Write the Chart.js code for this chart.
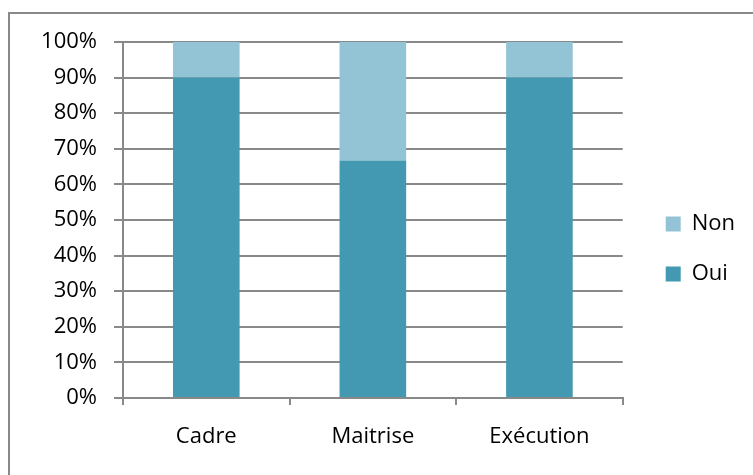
<!DOCTYPE html>
<html>
<head>
<meta charset="utf-8">
<script src="https://cdn.jsdelivr.net/npm/chart.js@4"></script>
<style>
  body { margin: 0; background: #fff; }
  #wrap { width: 753px; height: 475px; }
</style>
</head>
<body>
<div id="wrap"><canvas id="myChart"></canvas></div>
<script>
const categories = ['Cadre', 'Maitrise', 'Exécution'];
const ouiValues = [90, 66.7, 90];
const nonValues = [10, 33.3, 10];
const yTicks = [0, 10, 20, 30, 40, 50, 60, 70, 80, 90, 100];

const gridGrey = '#898989';

// grey frame around the whole chart
const frame = {
    id: 'frame',
    beforeDraw(chart) {
        const c = chart.ctx;
        c.save();
        c.strokeStyle = gridGrey;
        c.lineWidth = 2;
        c.strokeRect(9, 13, 800, 520);
        c.restore();
    }
};

Chart.defaults.font.family = 'Open Sans';
Chart.defaults.font.size = 22;
Chart.defaults.color = '#000';

const ctx = document.getElementById('myChart');

new Chart(ctx, {
    type: 'bar',
    data: {
        labels: categories,
        datasets: [{
            label: 'Oui',
            data: ouiValues,
            backgroundColor: '#4399b1',
            barPercentage: 0.4,
            categoryPercentage: 1
        }, {
            label: 'Non',
            data: nonValues,
            backgroundColor: '#93c4d6',
            barPercentage: 0.4,
            categoryPercentage: 1
        }]
    },
    options: {
        responsive: true,
        maintainAspectRatio: false,
        animation: false,
        layout: { padding: { left: 40, top: 42, right: 8, bottom: 19 } },
        plugins: {
            tooltip: { enabled: false },
            legend: {
                position: 'right',
                reverse: true,
                labels: { boxWidth: 15, boxHeight: 15, padding: 28 }
            }
        },
        scales: {
            x: {
                stacked: true,
                grid: { drawOnChartArea: false, color: gridGrey, lineWidth: 2, tickLength: 7 },
                border: { color: gridGrey, width: 2 },
                ticks: { padding: 19 },
                afterFit(axis) { axis.height = 58; }
            },
            y: {
                stacked: true,
                min: 0,
                max: 100,
                afterBuildTicks(axis) {
                    axis.ticks = yTicks.map(v => ({ value: v }));
                },
                grid: { color: gridGrey, lineWidth: 2, tickLength: 9 },
                border: { color: gridGrey, width: 2 },
                ticks: { padding: 17, callback: v => v + '%' },
                afterFit(axis) { axis.width = 83; }
            },
            // empty right-hand axis, keeps a gap between plot and legend
            gap: {
                position: 'right',
                display: true,
                grid: { display: false },
                border: { display: false },
                ticks: { display: false },
                afterFit(axis) { axis.width = 15; }
            }
        }
    },
    plugins: [frame]
});
</script>
</body>
</html>
